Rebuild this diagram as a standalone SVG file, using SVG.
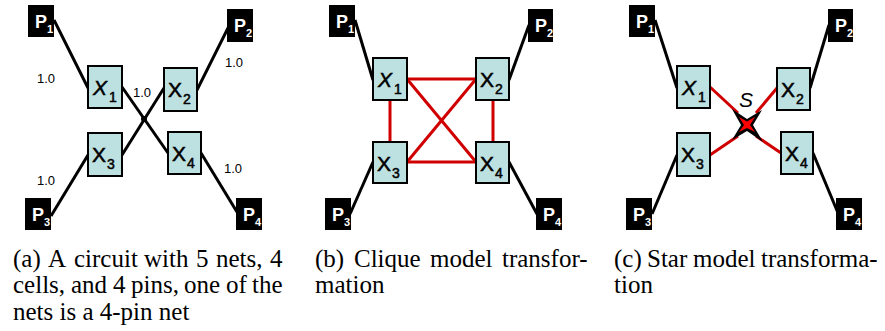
<svg xmlns="http://www.w3.org/2000/svg" width="885" height="331" viewBox="0 0 885 331">
<style>
.pin rect{fill:#000}
.pin text{fill:#fff;font-family:"Liberation Sans",Arial,sans-serif;font-weight:bold}
.cell rect{fill:#bde1e1;stroke:#000;stroke-width:2}
.cell text{fill:#000;stroke:#000;stroke-width:0.5;font-family:"Liberation Sans",Arial,sans-serif}
.w{stroke:#000;stroke-width:3;fill:none}
.r{stroke:#d00000;stroke-width:3;fill:none}
.lbl{font-family:"Liberation Sans",Arial,sans-serif;font-size:13px;fill:#000;text-anchor:middle}
.cap{font-family:"Liberation Serif","Times New Roman",serif;font-size:25px;fill:#000}
.big{font-size:21px}
.sub{font-size:14px}
.pb{font-size:18px}
.ps{font-size:11px}
</style>

<!-- Panel (a) -->
<g id="a-connectors">
<line class="w" x1="54" y1="20" x2="88" y2="88"/>
<line class="w" x1="229" y1="26" x2="197" y2="90"/>
<line class="w" x1="51" y1="216" x2="88" y2="155"/>
<line class="w" x1="201" y1="153" x2="237" y2="212"/>
<line class="w" x1="122" y1="87" x2="168" y2="153"/>
<line class="w" x1="164" y1="88" x2="122" y2="155"/>
<circle cx="144" cy="119" r="3" fill="#000"/>
</g>
<g id="a-labels">
<text class="lbl" x="46" y="83">1.0</text>
<text class="lbl" x="234" y="67">1.0</text>
<text class="lbl" x="142" y="97">1.0</text>
<text class="lbl" x="46" y="185">1.0</text>
<text class="lbl" x="233" y="173">1.0</text>
</g>
<g id="a-P1" class="pin"><rect x="28" y="5" width="26" height="32"/><text x="35" y="28" class="pb">P</text><text x="47" y="33" class="ps">1</text></g>
<g id="a-P2" class="pin"><rect x="227" y="9" width="26" height="33"/><text x="234" y="32" class="pb">P</text><text x="246" y="37" class="ps">2</text></g>
<g id="a-P3" class="pin"><rect x="25" y="198" width="26" height="32"/><text x="32" y="221" class="pb">P</text><text x="44" y="226" class="ps">3</text></g>
<g id="a-P4" class="pin"><rect x="236" y="198" width="26" height="32"/><text x="243" y="221" class="pb">P</text><text x="255" y="226" class="ps">4</text></g>
<g id="a-X1" class="cell"><rect x="88" y="66" width="34" height="42"/><text x="93" y="95" class="big" font-style="italic">X</text><text x="109" y="102" class="sub">1</text></g>
<g id="a-X2" class="cell"><rect x="164" y="68" width="33" height="43"/><text x="168" y="97" class="big">X</text><text x="183" y="104" class="sub">2</text></g>
<g id="a-X3" class="cell"><rect x="88" y="133" width="34" height="43"/><text x="92" y="162" class="big">X</text><text x="107" y="169" class="sub">3</text></g>
<g id="a-X4" class="cell"><rect x="168" y="132" width="33" height="42"/><text x="172" y="161" class="big">X</text><text x="187" y="168" class="sub">4</text></g>

<!-- Panel (b) -->
<g id="b-connectors">
<line class="w" x1="355" y1="20" x2="373" y2="80"/>
<line class="w" x1="529" y1="25" x2="509" y2="80"/>
<line class="w" x1="350" y1="214" x2="373" y2="162"/>
<line class="w" x1="509" y1="162" x2="537" y2="214"/>
<line class="r" x1="407" y1="79" x2="476" y2="79"/>
<line class="r" x1="407" y1="162" x2="476" y2="162"/>
<line class="r" x1="390" y1="100" x2="390" y2="142"/>
<line class="r" x1="493" y1="100" x2="493" y2="142"/>
<line class="r" x1="407" y1="79" x2="476" y2="162"/>
<line class="r" x1="476" y1="79" x2="407" y2="162"/>
</g>
<g id="b-P1" class="pin"><rect x="329" y="5" width="26" height="32"/><text x="336" y="28" class="pb">P</text><text x="348" y="33" class="ps">1</text></g>
<g id="b-P2" class="pin"><rect x="528" y="9" width="25" height="33"/><text x="535" y="32" class="pb">P</text><text x="547" y="37" class="ps">2</text></g>
<g id="b-P3" class="pin"><rect x="325" y="198" width="26" height="32"/><text x="332" y="221" class="pb">P</text><text x="344" y="226" class="ps">3</text></g>
<g id="b-P4" class="pin"><rect x="536" y="198" width="26" height="32"/><text x="543" y="221" class="pb">P</text><text x="555" y="226" class="ps">4</text></g>
<g id="b-X1" class="cell"><rect x="373" y="58" width="34" height="42"/><text x="378" y="87" class="big" font-style="italic">X</text><text x="394" y="94" class="sub">1</text></g>
<g id="b-X2" class="cell"><rect x="476" y="58" width="33" height="42"/><text x="480" y="87" class="big">X</text><text x="495" y="94" class="sub">2</text></g>
<g id="b-X3" class="cell"><rect x="373" y="142" width="34" height="41"/><text x="377" y="171" class="big">X</text><text x="392" y="178" class="sub">3</text></g>
<g id="b-X4" class="cell"><rect x="476" y="142" width="33" height="41"/><text x="480" y="171" class="big">X</text><text x="495" y="178" class="sub">4</text></g>

<!-- Panel (c) -->
<g id="c-connectors">
<line class="w" x1="655" y1="20" x2="677" y2="88"/>
<line class="w" x1="829" y1="25" x2="810" y2="88"/>
<line class="w" x1="652" y1="214" x2="677" y2="155"/>
<line class="w" x1="813" y1="153" x2="838" y2="213"/>
<line class="r" x1="710" y1="87" x2="738" y2="113"/>
<line class="r" x1="777" y1="88" x2="756" y2="113"/>
<line class="r" x1="710" y1="155" x2="738" y2="136"/>
<line class="r" x1="781" y1="153" x2="756" y2="136"/>
</g>
<g id="c-S">
<polygon points="747,119 732,109 741,125 732,140 747,131 763,142 753,125 762,110" fill="#000"/>
<polygon points="747,121.5 739,117 744,125 739,132 747,128 755,132 750,125 755,117" fill="#ff0000"/>
<text x="746" y="107" font-family="'Liberation Sans',Arial,sans-serif" font-size="21" font-style="italic" text-anchor="middle">S</text>
</g>
<g id="c-P1" class="pin"><rect x="629" y="5" width="26" height="32"/><text x="636" y="28" class="pb">P</text><text x="648" y="33" class="ps">1</text></g>
<g id="c-P2" class="pin"><rect x="828" y="9" width="25" height="33"/><text x="835" y="32" class="pb">P</text><text x="847" y="37" class="ps">2</text></g>
<g id="c-P3" class="pin"><rect x="626" y="198" width="26" height="32"/><text x="633" y="221" class="pb">P</text><text x="645" y="226" class="ps">3</text></g>
<g id="c-P4" class="pin"><rect x="836" y="198" width="26" height="32"/><text x="843" y="221" class="pb">P</text><text x="855" y="226" class="ps">4</text></g>
<g id="c-X1" class="cell"><rect x="677" y="66" width="33" height="42"/><text x="682" y="95" class="big" font-style="italic">X</text><text x="698" y="102" class="sub">1</text></g>
<g id="c-X2" class="cell"><rect x="777" y="68" width="33" height="42"/><text x="781" y="97" class="big">X</text><text x="796" y="104" class="sub">2</text></g>
<g id="c-X3" class="cell"><rect x="677" y="133" width="33" height="43"/><text x="681" y="162" class="big">X</text><text x="696" y="169" class="sub">3</text></g>
<g id="c-X4" class="cell"><rect x="781" y="132" width="32" height="42"/><text x="785" y="161" class="big">X</text><text x="800" y="168" class="sub">4</text></g>

<!-- Captions -->
<g id="captions" class="cap" font-family="'Liberation Serif','Times New Roman',serif">
<text y="267"><tspan x="13">(a)</tspan><tspan x="48">A</tspan><tspan x="74">circuit</tspan><tspan x="144">with</tspan><tspan x="196">5</tspan><tspan x="216">nets,</tspan><tspan x="270">4</tspan></text>
<text y="293"><tspan x="13">cells,</tspan><tspan x="71">and</tspan><tspan x="113">4</tspan><tspan x="131">pins,</tspan><tspan x="184">one</tspan><tspan x="226">of</tspan><tspan x="252">the</tspan></text>
<text y="320" x="13">nets is a 4-pin net</text>
<text y="267"><tspan x="315">(b)</tspan><tspan x="354">Clique</tspan><tspan x="430">model</tspan><tspan x="502">transfor-</tspan></text>
<text y="293" x="315">mation</text>
<text y="267"><tspan x="614">(c)</tspan><tspan x="647">Star</tspan><tspan x="693">model</tspan><tspan x="761">transforma-</tspan></text>
<text y="293" x="614">tion</text>
</g>
</svg>
